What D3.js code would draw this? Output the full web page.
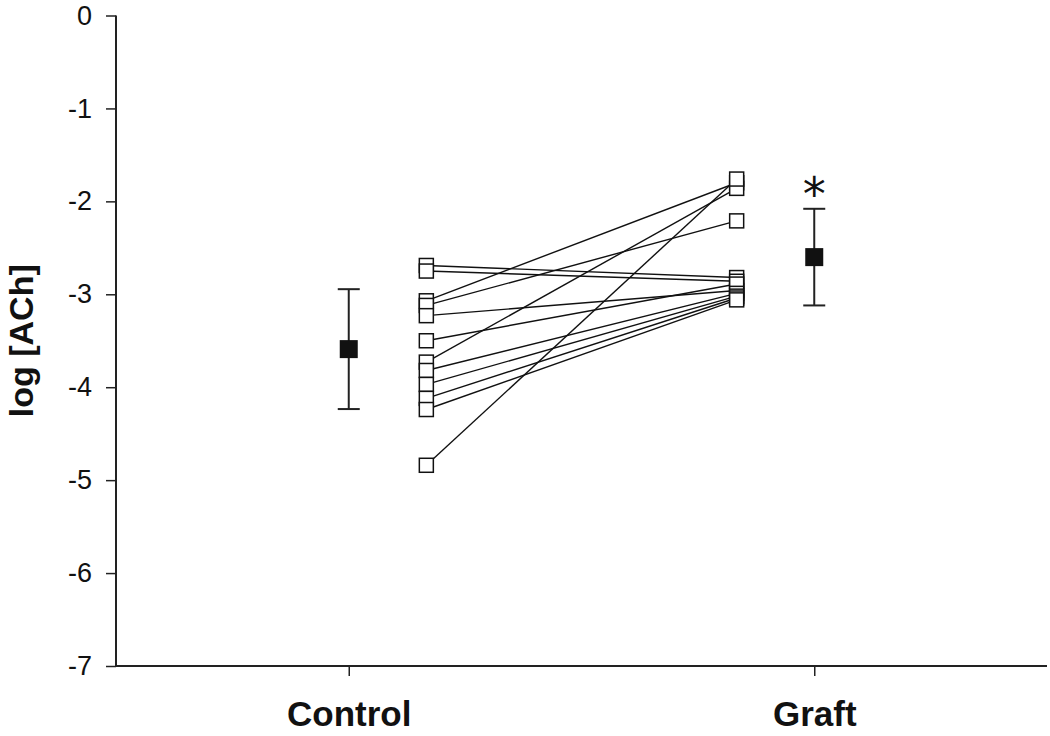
<!DOCTYPE html>
<html>
<head>
<meta charset="utf-8">
<script src="https://cdn.jsdelivr.net/npm/d3@7"></script>
<style>
  body { margin: 0; background: #fff; }
  svg { display: block; }
</style>
</head>
<body>
<svg id="chart" width="1050" height="736"></svg>
<script>
  // groups on the x axis
  var categories = ["Control", "Graft"];

  // paired individual values, same index = same subject
  var controlValues = [-2.69, -2.75, -3.07, -3.12, -3.23, -3.50, -3.73, -3.82, -3.97, -4.12, -4.24, -4.84];
  var graftValues   = [-2.82, -2.86, -1.80, -2.21, -2.96, -2.89, -1.86, -2.99, -3.02, -3.04, -3.06, -1.76];

  // group mean and spread (error bars)
  var meanValues = [-3.59, -2.60];
  var spreadValues = [0.645, 0.52];

  var yTicks = [0, -1, -2, -3, -4, -5, -6, -7];
  var yLabel = "log [ACh]";

  var svg = d3.select("#chart");

  var x = d3.scaleLinear().domain([0.5, 2.5]).range([116, 1047]);
  var y = d3.scaleLinear().domain([-7, 0]).range([666, 15.5]);

  // individual points sit a sixth of a group width inside the group means
  var offset = 1 / 6;
  var xControl = x(1 + offset);
  var xGraft = x(2 - offset);

  // y axis
  var yAxis = svg.append("g")
    .attr("transform", "translate(" + x(0.5) + ",0)")
    .call(d3.axisLeft(y).tickValues(yTicks).tickSize(10).tickPadding(14)
      .tickFormat(function(d) { return String(d); }));
  yAxis.select(".domain").attr("stroke", "#222").attr("stroke-width", 2).attr("d", "M0," + y(0) + "V" + y(-7));
  yAxis.selectAll(".tick line").attr("stroke", "#222").attr("stroke-width", 1.5);
  yAxis.selectAll(".tick text")
    .attr("font-family", "Liberation Sans, Arial, sans-serif")
    .attr("font-size", 27)
    .attr("fill", "#111");

  // x axis
  var xAxis = svg.append("g")
    .attr("transform", "translate(0," + y(-7) + ")")
    .call(d3.axisBottom(x).tickValues([1, 2]).tickSize(10).tickPadding(25)
      .tickFormat(function(d) { return categories[d - 1]; }));
  xAxis.select(".domain").attr("stroke", "#222").attr("stroke-width", 2).attr("d", "M" + x(0.5) + ",0H" + x(2.5));
  xAxis.selectAll(".tick line").attr("stroke", "#222").attr("stroke-width", 1.5);
  xAxis.selectAll(".tick text")
    .attr("font-family", "Liberation Sans, Arial, sans-serif")
    .attr("font-size", 35)
    .attr("font-weight", "bold")
    .attr("fill", "#111");

  // y title
  svg.append("text")
    .attr("transform", "translate(33," + y(-3.5) + ") rotate(-90)")
    .attr("text-anchor", "middle")
    .attr("font-family", "Liberation Sans, Arial, sans-serif")
    .attr("font-size", 34)
    .attr("font-weight", "bold")
    .attr("fill", "#111")
    .text(yLabel);

  // connecting lines for each pair
  var pairs = d3.zip(controlValues, graftValues);
  svg.append("g").selectAll("line")
    .data(pairs)
    .enter()
    .append("line")
    .attr("x1", xControl)
    .attr("y1", function(d) { return y(d[0]); })
    .attr("x2", xGraft)
    .attr("y2", function(d) { return y(d[1]); })
    .attr("stroke", "#111")
    .attr("stroke-width", 1.4);

  // open squares for individuals
  var sq = 14;
  function drawSquares(values, cx) {
    svg.append("g").selectAll("rect")
      .data(values)
      .enter()
      .append("rect")
      .attr("x", cx - sq / 2)
      .attr("y", function(d) { return y(d) - sq / 2; })
      .attr("width", sq)
      .attr("height", sq)
      .attr("fill", "#fff")
      .attr("stroke", "#111")
      .attr("stroke-width", 1.5);
  }
  drawSquares(controlValues, xControl);
  drawSquares(graftValues, xGraft);

  // means with error bars
  var capW = 22;
  var means = svg.append("g").selectAll("g")
    .data(meanValues)
    .enter()
    .append("g")
    .attr("transform", function(d, i) { return "translate(" + x(i + 1) + ",0)"; });

  means.append("line")
    .attr("y1", function(d, i) { return y(d + spreadValues[i]); })
    .attr("y2", function(d, i) { return y(d - spreadValues[i]); })
    .attr("stroke", "#222").attr("stroke-width", 2);
  means.append("line")
    .attr("x1", -capW / 2).attr("x2", capW / 2)
    .attr("y1", function(d, i) { return y(d + spreadValues[i]); })
    .attr("y2", function(d, i) { return y(d + spreadValues[i]); })
    .attr("stroke", "#222").attr("stroke-width", 2);
  means.append("line")
    .attr("x1", -capW / 2).attr("x2", capW / 2)
    .attr("y1", function(d, i) { return y(d - spreadValues[i]); })
    .attr("y2", function(d, i) { return y(d - spreadValues[i]); })
    .attr("stroke", "#222").attr("stroke-width", 2);
  means.append("rect")
    .attr("x", -9)
    .attr("y", function(d) { return y(d) - 9; })
    .attr("width", 18)
    .attr("height", 18)
    .attr("fill", "#111");

  // significance mark over the graft group
  svg.append("text")
    .attr("x", x(2))
    .attr("y", y(meanValues[1] + spreadValues[1]) + 8)
    .attr("dy", "-0.15em")
    .attr("text-anchor", "middle")
    .attr("font-family", "DejaVu Sans, sans-serif")
    .attr("font-size", 46)
    .attr("fill", "#111")
    .text("*");
</script>
</body>
</html>
